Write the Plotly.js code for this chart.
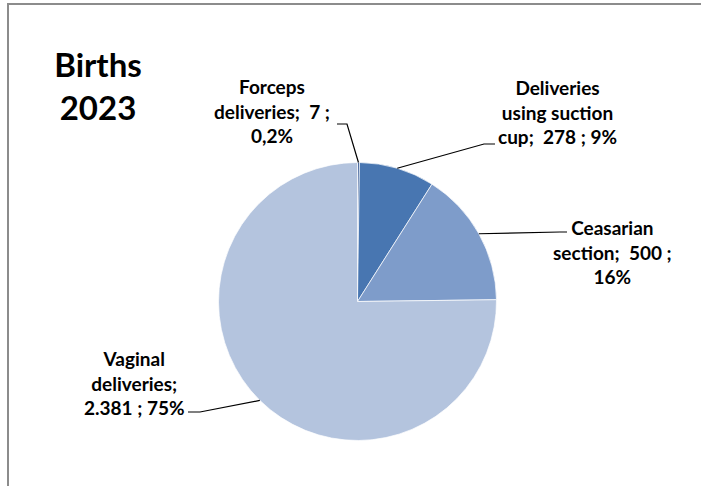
<!DOCTYPE html>
<html>
<head>
<meta charset="utf-8">
<script src="https://cdn.plot.ly/plotly-3.0.1.min.js"></script>
<style>
  html, body { margin: 0; padding: 0; background: #ffffff; overflow: hidden; }
  #frame { position: absolute; left: 7px; top: 3px; width: 800px; height: 600px;
           border-left: 2px solid #8c8c8c; border-top: 2px solid #8c8c8c; }
  #chart { position: absolute; left: 0; top: 0; width: 701px; height: 486px; }
</style>
</head>
<body>
<div id="frame"></div>
<div id="chart"></div>
<script>
// ---- data ----
const categories = ['Forceps deliveries', 'Deliveries using suction cup', 'Ceasarian section', 'Vaginal deliveries'];
const values = [7, 278, 500, 2381];
const colors = ['#2f528f', '#4876b1', '#7e9cca', '#b4c4de'];
const labelTemplates = [
  'Forceps<br>deliveries;  {v} ;<br>{p}',
  'Deliveries<br>using suction<br>cup;  {v} ; {p}',
  'Ceasarian<br>section;  {v} ;<br>{p}',
  'Vaginal<br>deliveries;<br>{v} ; {p}'
];
const chartTitle = 'Births<br>2023';

// ---- layout geometry (pixels) ----
const W = 701, H = 486;
const cx = 357.5, cy = 301.5, r = 139;
const labelPos = [[272, 111], [557, 112], [612, 252], [134, 383]];
const leaderStart = [[337, 124], [495, 144], [567, 232], [188, 412]];
const leaderKnee = [[347, 124], [484, 144], [560, 232], [200, 412]];

const total = values.reduce((a, b) => a + b, 0);
function fmtNum(v) { return String(v).replace(/\B(?=(\d{3})+(?!\d))/g, '.'); }
function fmtPct(v) {
  const p = v / total * 100;
  return (p < 1 ? p.toFixed(1) : Math.round(p).toFixed(0)).replace('.', ',') + '%';
}
const px = x => x / W, py = y => 1 - y / H;

const annotations = [];
const shapes = [];
let cum = 0;
values.forEach((v, i) => {
  const mid = (cum + v / 2) / total * 2 * Math.PI;
  cum += v;
  const ex = cx + r * Math.sin(mid), ey = cy - r * Math.cos(mid);
  annotations.push({
    xref: 'paper', yref: 'paper', x: px(labelPos[i][0]), y: py(labelPos[i][1]),
    xanchor: 'center', yanchor: 'middle', showarrow: false, align: 'center',
    text: labelTemplates[i].replace('{v}', fmtNum(v)).replace('{p}', fmtPct(v)),
    font: { family: 'Lato, "Open Sans", sans-serif', size: 19, color: '#000000', weight: 'bold' }
  });
  shapes.push({
    type: 'path', xref: 'paper', yref: 'paper',
    path: 'M ' + px(leaderStart[i][0]) + ' ' + py(leaderStart[i][1]) +
          ' L ' + px(leaderKnee[i][0]) + ' ' + py(leaderKnee[i][1]) +
          ' L ' + px(ex) + ' ' + py(ey),
    line: { color: '#000000', width: 1.2 }
  });
});

const trace = {
  type: 'pie',
  labels: categories,
  values: values,
  sort: false,
  direction: 'clockwise',
  rotation: 0,
  textinfo: 'none',
  hoverinfo: 'none',
  marker: { colors: colors, line: { color: 'rgba(255,255,255,0.7)', width: 1 } },
  domain: { x: [px(cx - r), px(cx + r)], y: [py(cy + r), py(cy - r)] },
  showlegend: false
};

const layout = {
  width: W, height: H,
  margin: { l: 0, r: 0, t: 0, b: 0 },
  paper_bgcolor: 'rgba(0,0,0,0)',
  plot_bgcolor: 'rgba(0,0,0,0)',
  showlegend: false,
  title: {
    text: chartTitle, xref: 'paper', yref: 'paper',
    x: px(98), y: py(77), xanchor: 'center', yanchor: 'middle',
    font: { family: 'Lato, "Open Sans", sans-serif', size: 33, color: '#000000', weight: 'bold' }
  },
  annotations: annotations,
  shapes: shapes
};

Plotly.newPlot('chart', [trace], layout, { staticPlot: true, displayModeBar: false });
</script>
</body>
</html>
